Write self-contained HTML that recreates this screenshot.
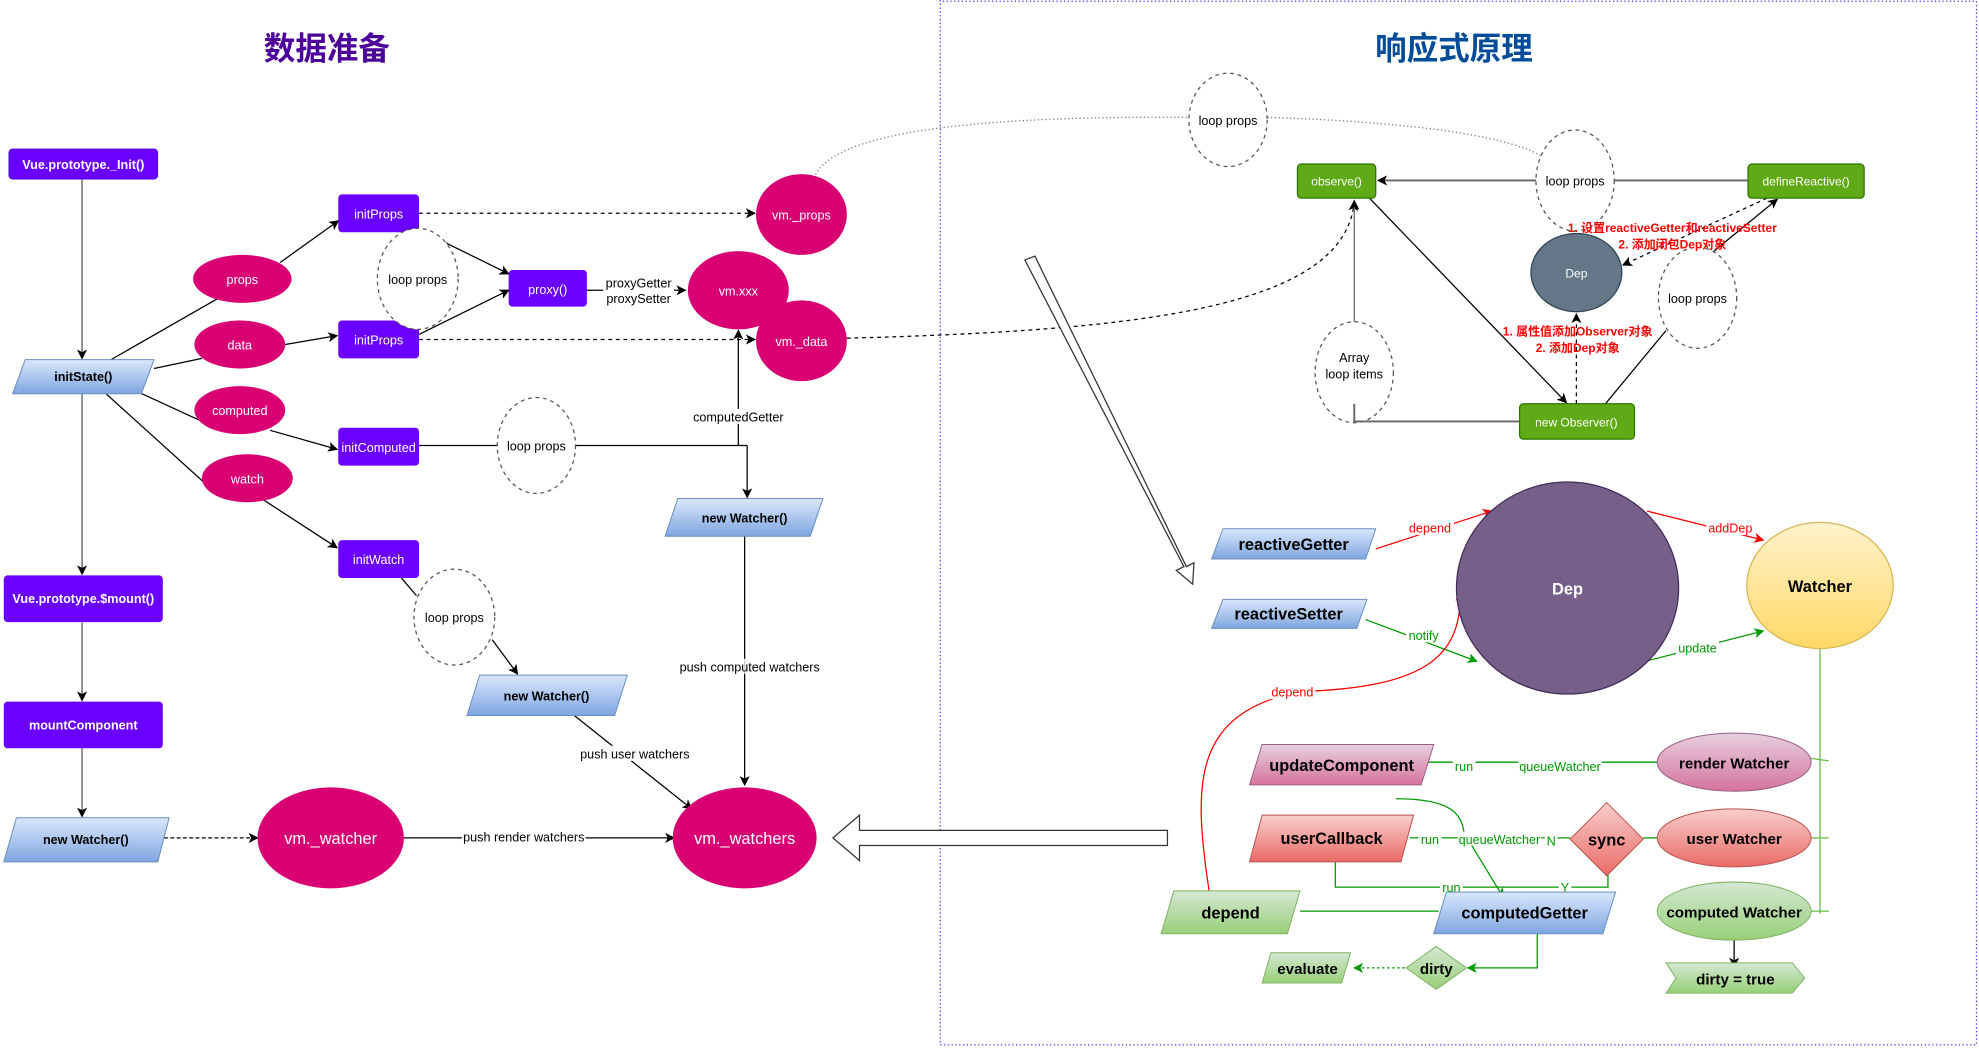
<!DOCTYPE html>
<html><head><meta charset="utf-8"><style>
html,body{margin:0;padding:0;background:#fff;}
svg{display:block;}
text{font-family:"Liberation Sans","Noto Sans CJK SC",sans-serif;}
</style></head><body>
<svg width="1979" height="1048" viewBox="0 0 1568 830.5" preserveAspectRatio="none" xmlns="http://www.w3.org/2000/svg">
<defs>
<marker id="ab" markerWidth="8" markerHeight="8" refX="7" refY="4" orient="auto" markerUnits="userSpaceOnUse"><path d="M0,0 L8,4 L0,8 L2,4z" fill="#000"/></marker>
<marker id="ar" markerWidth="8" markerHeight="8" refX="7" refY="4" orient="auto" markerUnits="userSpaceOnUse"><path d="M0,0 L8,4 L0,8 L2,4z" fill="#f00"/></marker>
<marker id="ag" markerWidth="8" markerHeight="8" refX="7" refY="4" orient="auto" markerUnits="userSpaceOnUse"><path d="M0,0 L8,4 L0,8 L2,4z" fill="#009900"/></marker>
<linearGradient id="gb" x1="0" y1="0" x2="0" y2="1"><stop offset="0" stop-color="#dae8fc"/><stop offset="1" stop-color="#7ea6e0"/></linearGradient>
<linearGradient id="gy" x1="0" y1="0" x2="0" y2="1"><stop offset="0" stop-color="#fff2cc"/><stop offset="1" stop-color="#ffd966"/></linearGradient>
<linearGradient id="gp" x1="0" y1="0" x2="0" y2="1"><stop offset="0" stop-color="#e6d0de"/><stop offset="1" stop-color="#d5739d"/></linearGradient>
<linearGradient id="gr" x1="0" y1="0" x2="0" y2="1"><stop offset="0" stop-color="#f8cecc"/><stop offset="1" stop-color="#ea6b66"/></linearGradient>
<linearGradient id="gg" x1="0" y1="0" x2="0" y2="1"><stop offset="0" stop-color="#d5e8d4"/><stop offset="1" stop-color="#97d077"/></linearGradient>
</defs>

<!-- border -->
<path d="M745,0 L745,828 L1566,828 L1566,1 L745,1" fill="none" stroke="#3333ff" stroke-width="1" stroke-dasharray="1,2"/>

<text x="259" y="47" text-anchor="middle" font-size="25" font-weight="bold" fill="#4c0099">数据准备</text>
<text x="1152" y="47" text-anchor="middle" font-size="25" font-weight="bold" fill="#004c99">响应式原理</text>

<!-- left connectors -->
<g stroke="#555" stroke-width="1" fill="none">
<line x1="65" y1="142" x2="65" y2="284" marker-end="url(#ab)"/>
<line x1="65" y1="312" x2="65" y2="455" marker-end="url(#ab)"/>
<line x1="65" y1="493" x2="65" y2="555" marker-end="url(#ab)"/>
<line x1="65" y1="593" x2="65" y2="647" marker-end="url(#ab)"/>
</g>
<g stroke="#000" stroke-width="1" fill="none">
<line x1="88" y1="285" x2="177" y2="234"/>
<line x1="222" y1="208" x2="268" y2="175" marker-end="url(#ab)"/>
<line x1="122" y1="292" x2="160" y2="284"/>
<line x1="226" y1="273" x2="267" y2="266" marker-end="url(#ab)"/>
<line x1="108" y1="310" x2="158" y2="333"/>
<line x1="214" y1="341" x2="267" y2="356" marker-end="url(#ab)"/>
<line x1="84" y1="312" x2="168" y2="388"/>
<line x1="207" y1="395" x2="267" y2="434" marker-end="url(#ab)"/>
<line x1="332" y1="182" x2="403" y2="217" marker-end="url(#ab)"/>
<line x1="332" y1="265" x2="403" y2="230" marker-end="url(#ab)"/>
<line x1="465" y1="230" x2="543" y2="230" marker-end="url(#ab)"/>
<line x1="332" y1="353" x2="592" y2="353"/>
<line x1="592" y1="353" x2="592" y2="394" marker-end="url(#ab)"/>
<line x1="585" y1="353" x2="585" y2="262" marker-end="url(#ab)"/>
<line x1="318" y1="458" x2="330" y2="472"/>
<line x1="390" y1="507" x2="410" y2="534" marker-end="url(#ab)"/>
<line x1="590" y1="425" x2="590" y2="622" marker-end="url(#ab)"/>
<line x1="455" y1="567" x2="548" y2="641" marker-end="url(#ab)"/>
<line x1="320" y1="664" x2="534" y2="664" marker-end="url(#ab)"/>
<line x1="332" y1="169" x2="598" y2="169" stroke-dasharray="3,3" marker-end="url(#ab)"/>
<line x1="332" y1="269" x2="598" y2="269" stroke-dasharray="3,3" marker-end="url(#ab)"/>
<line x1="130" y1="664" x2="204" y2="664" stroke-dasharray="3,2" marker-end="url(#ab)"/>
</g>

<!-- dotted long curves -->
<path d="M645,141 C660,100 800,92 942,93" fill="none" stroke="#777" stroke-dasharray="1,2"/>
<path d="M1004,93 C1100,96 1190,105 1222,124" fill="none" stroke="#777" stroke-dasharray="1,2"/>
<path d="M671,268 C900,262 1065,245 1073,160" fill="none" stroke="#000" stroke-dasharray="3,3" marker-end="url(#ab)"/>

<!-- left nodes -->
<g font-size="10" font-weight="bold" fill="#fff" text-anchor="middle">
<rect x="7" y="118" width="118" height="24" rx="3" fill="#6a00ff" stroke="#3700cc" stroke-width="0.5"/>
<text x="66" y="134">Vue.prototype._Init()</text>
<rect x="3" y="456" width="126" height="37" rx="3" fill="#6a00ff"/>
<text x="66" y="478">Vue.prototype.$mount()</text>
<rect x="3" y="556" width="126" height="37" rx="3" fill="#6a00ff"/>
<text x="66" y="578">mountComponent</text>
</g>
<g font-size="10" fill="#fff" text-anchor="middle">
<rect x="268" y="154" width="64" height="30" rx="3" fill="#6a00ff"/><text x="300" y="173">initProps</text>
<rect x="268" y="254" width="64" height="30" rx="3" fill="#6a00ff"/><text x="300" y="273">initProps</text>
<rect x="268" y="339" width="64" height="30" rx="3" fill="#6a00ff"/><text x="300" y="358">initComputed</text>
<rect x="268" y="428" width="64" height="30" rx="3" fill="#6a00ff"/><text x="300" y="447">initWatch</text>
<rect x="403" y="214" width="62" height="29" rx="3" fill="#6a00ff"/><text x="434" y="233">proxy()</text>
<ellipse cx="192" cy="221" rx="39" ry="19" fill="#d80073"/><text x="192" y="225">props</text>
<ellipse cx="190" cy="273" rx="36" ry="19" fill="#d80073"/><text x="190" y="277">data</text>
<ellipse cx="190" cy="325" rx="36" ry="19" fill="#d80073"/><text x="190" y="329">computed</text>
<ellipse cx="196" cy="379" rx="36" ry="19" fill="#d80073"/><text x="196" y="383">watch</text>
<ellipse cx="585" cy="230" rx="40" ry="31" fill="#d80073"/><text x="585" y="234">vm.xxx</text>
<ellipse cx="635" cy="170" rx="36" ry="32" fill="#d80073"/><text x="635" y="174">vm._props</text>
<ellipse cx="635" cy="270" rx="36" ry="32" fill="#d80073"/><text x="635" y="274">vm._data</text>
<ellipse cx="262" cy="664" rx="58" ry="40" fill="#d80073"/><text x="262" y="669" font-size="13">vm._watcher</text>
<ellipse cx="590" cy="664" rx="57" ry="40" fill="#d80073"/><text x="590" y="669" font-size="13">vm._watchers</text>
</g>
<g fill="#fff" stroke="#555" stroke-dasharray="3,3" font-size="10" text-anchor="middle">
<ellipse cx="331" cy="221" rx="32" ry="40"/>
<ellipse cx="425" cy="353" rx="31" ry="38"/>
<ellipse cx="360" cy="489" rx="32" ry="38"/>
<ellipse cx="973" cy="95" rx="31" ry="37"/>
<ellipse cx="1248" cy="143" rx="31" ry="40"/>
<ellipse cx="1073" cy="295" rx="31" ry="40"/>
<ellipse cx="1345" cy="236" rx="31" ry="40"/>
</g>
<g font-size="10" fill="#000" text-anchor="middle">
<text x="331" y="225">loop props</text>
<text x="425" y="357">loop props</text>
<text x="360" y="493">loop props</text>
<text x="973" y="99">loop props</text>
<text x="1248" y="147">loop props</text>
<text x="1073" y="287">Array</text><text x="1073" y="300">loop items</text>
<text x="1345" y="240">loop props</text>
</g>
<!-- parallelograms left -->
<g stroke="#6c8ebf" stroke-width="0.8" fill="url(#gb)">
<polygon points="20,285 122,285 112,312 10,312"/>
<polygon points="13,648 134,648 125,683 3,683"/>
<polygon points="537,395 652,395 642,425 527,425"/>
<polygon points="380,535 497,535 487,567 370,567"/>
</g>
<g font-size="10" font-weight="bold" fill="#000" text-anchor="middle">
<text x="66" y="302">initState()</text>
<text x="68" y="669">new Watcher()</text>
<text x="590" y="414">new Watcher()</text>
<text x="433" y="555">new Watcher()</text>
</g>
<g font-size="10" fill="#000" text-anchor="middle">
<rect x="478" y="218" width="56" height="24" fill="#fff"/>
<text x="506" y="228">proxyGetter</text><text x="506" y="240">proxySetter</text>
<rect x="548" y="324" width="74" height="12" fill="#fff"/><text x="585" y="334">computedGetter</text>
<rect x="536" y="522" width="116" height="12" fill="#fff" opacity="0.8"/><text x="594" y="532">push computed watchers</text>
<rect x="458" y="591" width="90" height="12" fill="#fff"/><text x="503" y="601">push user watchers</text>
<rect x="366" y="657" width="98" height="12" fill="#fff"/><text x="415" y="667">push render watchers</text>
</g>

<!-- hollow arrows -->
<polygon points="925,658 681,658 681,646 660,664 681,682 681,670 925,670" fill="#fff" stroke="#333" stroke-width="1"/>
<polygon points="812,206 820,203 940,449 946,446 945,463 932,452 938,449" fill="#fff" stroke="#333" stroke-width="1"/>

<!-- right top -->
<g stroke="#000" stroke-width="1" fill="none">
<line x1="1217" y1="143" x2="1092" y2="143" stroke="#666" stroke-width="1.5" marker-end="url(#ab)"/>
<line x1="1385" y1="143" x2="1279" y2="143" stroke="#666" stroke-width="1.5"/>
<line x1="1085" y1="157" x2="1241" y2="319" marker-end="url(#ab)"/>
<line x1="1073" y1="255" x2="1073" y2="159" stroke="#666" marker-end="url(#ab)"/>
<polyline points="1204,334 1073,334 1073,335" stroke="#666" stroke-width="1.5"/>
<line x1="1073" y1="335" x2="1073" y2="334"/>
<line x1="1249" y1="320" x2="1249" y2="249" stroke-dasharray="3,3" marker-end="url(#ab)"/>
<line x1="1272" y1="320" x2="1320" y2="262"/>
<line x1="1358" y1="199" x2="1408" y2="158" marker-end="url(#ab)"/>
<line x1="1400" y1="157" x2="1286" y2="210" stroke-dasharray="3,3" marker-end="url(#ab)"/>
</g>
<line x1="1073" y1="335" x2="1073" y2="320" stroke="#666" stroke-width="1.5"/>
<g font-size="9.5" fill="#fff" text-anchor="middle">
<rect x="1028" y="130" width="62" height="27" rx="3" fill="#60a917" stroke="#2d7600"/><text x="1059" y="147">observe()</text>
<rect x="1385" y="130" width="92" height="27" rx="3" fill="#60a917" stroke="#2d7600"/><text x="1431" y="147">defineReactive()</text>
<rect x="1204" y="320" width="91" height="28" rx="3" fill="#60a917" stroke="#2d7600"/><text x="1249" y="338">new Observer()</text>
<ellipse cx="1249" cy="216" rx="36" ry="31" fill="#647687" stroke="#314354"/><text x="1249" y="220">Dep</text>
</g>
<g font-size="9.5" font-weight="bold" fill="#f00" text-anchor="middle">
<text x="1325" y="184">1. 设置reactiveGetter和reactiveSetter</text>
<text x="1325" y="197">2. 添加闭包Dep对象</text>
<text x="1250" y="266">1. 属性值添加Observer对象</text>
<text x="1250" y="279">2. 添加Dep对象</text>
</g>

<!-- lower right connectors -->
<line x1="1090" y1="435" x2="1182" y2="405" stroke="#f00" marker-end="url(#ar)"/>
<line x1="1305" y1="405" x2="1397" y2="428" stroke="#f00" marker-end="url(#ar)"/>
<line x1="1082" y1="491" x2="1170" y2="524" stroke="#009900" marker-end="url(#ag)"/>
<line x1="1300" y1="525" x2="1397" y2="500" stroke="#009900" marker-end="url(#ag)"/>
<path d="M958,706 C945,620 945,565 1030,548 C1130,545 1158,520 1157,469" fill="none" stroke="#f00" marker-end="url(#ar)"/>
<g stroke="#009900" fill="none">
<line x1="1130" y1="604" x2="1313" y2="604"/>
<line x1="1117" y1="664" x2="1244" y2="664"/>
<line x1="1302" y1="664" x2="1313" y2="664"/>
<polyline points="1058,683 1058,703 1274,703 1274,693"/>
<path d="M1106,633 C1150,633 1158,645 1160,660 L1191,711" marker-end="url(#ag)"/>
<line x1="1030" y1="722" x2="1140" y2="722"/>
<polyline points="1218,740 1218,767 1163,767" marker-end="url(#ag)"/>
<line x1="1113" y1="767" x2="1073" y2="767" stroke-dasharray="2,2" marker-end="url(#ag)"/>
</g>
<g stroke="#66bb44" fill="none">
<line x1="1442" y1="514" x2="1442" y2="724"/>
<line x1="1435" y1="601" x2="1449" y2="603"/>
<line x1="1435" y1="664" x2="1449" y2="664"/>
<line x1="1435" y1="722" x2="1449" y2="722"/>
</g>
<line x1="1374" y1="745" x2="1374" y2="766" stroke="#000" marker-end="url(#ab)"/>

<g font-size="10" text-anchor="middle">
<rect x="1114" y="412" width="38" height="12" fill="#fff"/><text x="1133" y="422" fill="#f00">depend</text>
<rect x="1352" y="412" width="38" height="12" fill="#fff"/><text x="1371" y="422" fill="#f00">addDep</text>
<rect x="1006" y="542" width="36" height="12" fill="#fff"/><text x="1024" y="552" fill="#f00">depend</text>
<rect x="1114" y="497" width="30" height="12" fill="#fff"/><text x="1128" y="507" fill="#009900">notify</text>
<rect x="1328" y="507" width="34" height="12" fill="#fff"/><text x="1345" y="517" fill="#009900">update</text>
<g fill="#009900">
<rect x="1151" y="601" width="18" height="11" fill="#fff"/><text x="1160" y="611">run</text>
<rect x="1203" y="601" width="66" height="11" fill="#fff"/><text x="1236" y="611">queueWatcher</text>
<rect x="1124" y="659" width="18" height="11" fill="#fff"/><text x="1133" y="669">run</text>
<rect x="1155" y="659" width="66" height="11" fill="#fff"/><text x="1188" y="669">queueWatcher</text>
<rect x="1224" y="659" width="10" height="11" fill="#fff"/><text x="1229" y="670">N</text>
<rect x="1141" y="697" width="18" height="11" fill="#fff"/><text x="1150" y="707">run</text>
<rect x="1235" y="697" width="10" height="11" fill="#fff"/><text x="1240" y="707">Y</text>
</g>
</g>

<!-- lower right nodes -->
<ellipse cx="1242" cy="466" rx="88" ry="84" fill="#76608a" stroke="#432d57"/>
<text x="1242" y="471" font-size="13" font-weight="bold" fill="#fff" text-anchor="middle">Dep</text>
<ellipse cx="1442" cy="464" rx="58" ry="50" fill="url(#gy)" stroke="#d6b656"/>
<g stroke-width="0.8">
<polygon points="969,419 1090,419 1082,443 960,443" fill="url(#gb)" stroke="#6c8ebf"/>
<polygon points="969,475 1083,475 1075,498 960,498" fill="url(#gb)" stroke="#6c8ebf"/>
<polygon points="1000,590 1136,590 1126,622 990,622" fill="url(#gp)" stroke="#996185"/>
<polygon points="1000,646 1120,646 1110,683 990,683" fill="url(#gr)" stroke="#b85450"/>
<polygon points="930,706 1030,706 1020,740 920,740" fill="url(#gg)" stroke="#82b366"/>
<polygon points="1146,707 1280,707 1270,740 1136,740" fill="url(#gb)" stroke="#6c8ebf"/>
<polygon points="1007,755 1070,755 1063,779 1000,779" fill="url(#gg)" stroke="#82b366"/>
<polygon points="1138,750 1162,767 1138,784 1114,767" fill="url(#gg)" stroke="#82b366"/>
<polygon points="1273,636 1302,665 1273,694 1244,665" fill="url(#gr)" stroke="#b85450"/>
<polygon points="1320,763 1420,763 1430,775 1420,787 1320,787 1328,775" fill="url(#gg)" stroke="#82b366"/>
<ellipse cx="1374" cy="604" rx="61" ry="23" fill="url(#gp)" stroke="#996185"/>
<ellipse cx="1374" cy="664" rx="61" ry="23" fill="url(#gr)" stroke="#b85450"/>
<ellipse cx="1374" cy="722" rx="61" ry="23" fill="url(#gg)" stroke="#82b366"/>
</g>
<g font-size="13" font-weight="bold" fill="#000" text-anchor="middle">
<text x="1442" y="469">Watcher</text>
<text x="1025" y="436">reactiveGetter</text>
<text x="1021" y="491">reactiveSetter</text>
<text x="1063" y="611">updateComponent</text>
<text x="1055" y="669">userCallback</text>
<text x="975" y="728">depend</text>
<text x="1208" y="728">computedGetter</text>
<text x="1036" y="772" font-size="12">evaluate</text>
<text x="1138" y="772" font-size="12">dirty</text>
<text x="1273" y="670">sync</text>
<text x="1375" y="780" font-size="12">dirty = true</text>
<text x="1374" y="609" font-size="12">render Watcher</text>
<text x="1374" y="669" font-size="12">user Watcher</text>
<text x="1374" y="727" font-size="12">computed Watcher</text>
</g>
</svg>
</body></html>
